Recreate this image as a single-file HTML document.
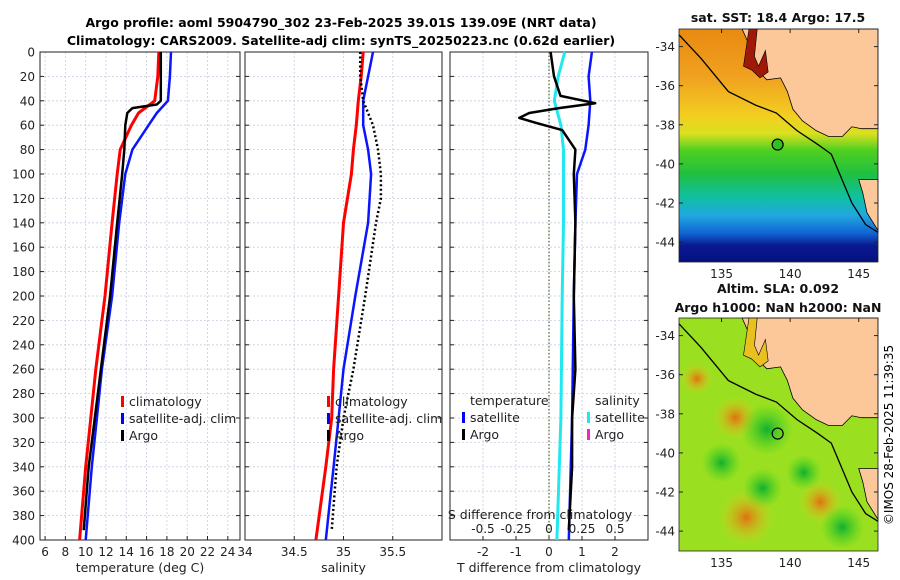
<!DOCTYPE html>
<html><head><meta charset="utf-8"><style>
body{margin:0;background:#fff;}
svg{display:block;font-family:"DejaVu Sans","Liberation Sans",sans-serif;}
</style></head><body>
<svg id="fig" width="900" height="580" viewBox="0 0 900 580">
<defs>
<linearGradient id="sstg" x1="0" y1="0" x2="0" y2="1">
<stop offset="0" stop-color="#e88a10"/><stop offset="0.2" stop-color="#f0a020"/>
<stop offset="0.38" stop-color="#f2d020"/><stop offset="0.45" stop-color="#d8e020"/>
<stop offset="0.52" stop-color="#50d020"/><stop offset="0.62" stop-color="#20c040"/>
<stop offset="0.72" stop-color="#10c0a0"/><stop offset="0.8" stop-color="#20a8e0"/>
<stop offset="0.88" stop-color="#1060d0"/><stop offset="0.93" stop-color="#0a1890"/><stop offset="1" stop-color="#061080"/>
</linearGradient>
<radialGradient id="hot1"><stop offset="0" stop-color="#e07010"/><stop offset="1" stop-color="#e8d020" stop-opacity="0"/></radialGradient>
<radialGradient id="grn1"><stop offset="0" stop-color="#10b030"/><stop offset="1" stop-color="#40d020" stop-opacity="0"/></radialGradient>
</defs>
<g id="titles" font-weight="bold" font-size="12.5" text-anchor="middle">
<text x="341" y="27">Argo profile: aoml 5904790_302 23-Feb-2025 39.01S 139.09E (NRT data)</text>
<text x="341" y="45">Climatology: CARS2009. Satellite-adj clim: synTS_20250223.nc (0.62d earlier)</text>
</g>
<g id="plots"></g>
<g id="maps"></g>
<text transform="translate(893,435) rotate(-90)" font-size="12" text-anchor="middle">©IMOS 28-Feb-2025 11:39:35</text>
</svg>
<script>
const NS="http://www.w3.org/2000/svg";
// depths (m)
const depthTicks=[0,20,40,60,80,100,120,140,160,180,200,220,240,260,280,300,320,340,360,380,400];
// temperature profiles
const tDepth=[0,20,40,50,60,80,100,140,200,260,300,340,400];
const tClim=[17.2,17.1,16.8,15.2,14.5,13.4,13.1,12.6,11.9,11.0,10.5,10.0,9.4];
const tSat=[18.4,18.3,18.1,17.0,16.2,14.6,13.9,13.3,12.6,11.6,11.1,10.6,10.0];
const argoTDepth=[0,20,40,43,46,50,60,80,100,140,200,260,300,340,392];
const argoT=[17.4,17.4,17.4,17.0,14.6,14.1,13.9,13.8,13.6,13.1,12.4,11.5,10.9,10.3,9.8];
const tTicks=[6,8,10,12,14,16,18,20,22,24];
// salinity profiles
const sDepth=[0,20,40,60,80,100,140,200,260,300,340,400];
const sClim=[35.2,35.18,35.15,35.13,35.1,35.08,35.0,34.95,34.9,34.88,34.82,34.72];
const sSat=[35.3,35.25,35.2,35.2,35.25,35.28,35.25,35.12,35.0,34.95,34.9,34.82];
const argoSDepth=[0,20,40,60,80,100,120,140,200,260,300,340,392];
const argoS=[35.17,35.17,35.2,35.3,35.35,35.38,35.38,35.33,35.22,35.1,35.0,34.93,34.88];
const sTicks=[34,34.5,35,35.5];
// differences
const dTArgoDepth=[0,20,36,42,46,50,54,58,64,80,100,140,200,260,300,340,392];
const dTArgo=[0.05,0.15,0.35,1.4,0.3,-0.6,-0.9,-0.4,0.4,0.8,0.75,0.8,0.75,0.8,0.7,0.7,0.6];
const dTSatDepth=[0,20,40,60,80,100,140,200,300,400];
const dTSat=[1.3,1.2,1.25,1.2,1.1,0.85,0.8,0.75,0.7,0.6];
const dSSat=[0.12,0.07,0.04,0.09,0.11,0.11,0.11,0.1,0.09,0.06];
const dTTicks=[-2,-1,0,1,2];
const dSTicks=[-0.5,-0.25,0,0.25,0.5];
const dSTickLabels=["-0.5","-0.25","0","0.25","0.5"];
const latTicks=[-34,-36,-38,-40,-42,-44];
const lonTicks=[135,140,145];
const argoLon=139.09, argoLat=-39.01;

const Y0=52,Y1=540;
const yD=d=>Y0+d/400*(Y1-Y0);
function mk(tag,attrs,parent){const e=document.createElementNS(NS,tag);for(const k in attrs)e.setAttribute(k,attrs[k]);parent.appendChild(e);return e;}
const plots=document.getElementById('plots');
function panel(name,x0,x1,xmin,xmax,ticks,labels,xlabel,yLabels){
  const g=mk('g',{},plots);
  
  
  const sx=v=>x0+(v-xmin)/(xmax-xmin)*(x1-x0);
  depthTicks.forEach(d=>{const l=mk('line',{x1:x0,x2:x1,y1:yD(d),y2:yD(d),stroke:'#c8cce0','stroke-dasharray':'2,2','stroke-width':0.8},g);
    mk('line',{x1:x0,x2:x0+4,y1:yD(d),y2:yD(d),stroke:'#222'},g);mk('line',{x1:x1,x2:x1-4,y1:yD(d),y2:yD(d),stroke:'#222'},g);
    if(yLabels){const t=mk('text',{x:x0-5,y:yD(d)+4.5,'font-size':12,'text-anchor':'end',fill:'#222'},g);t.textContent=d;}});
  ticks.forEach((v,i)=>{const l=mk('line',{x1:sx(v),x2:sx(v),y1:Y0,y2:Y1,stroke:'#c8cce0','stroke-dasharray':'2,2','stroke-width':0.8},g);
    mk('line',{x1:sx(v),x2:sx(v),y1:Y1,y2:Y1-4,stroke:'#222'},g);
    const t=mk('text',{x:sx(v),y:Y1+16,'font-size':12,'text-anchor':'middle',fill:'#222'},g);t.textContent=labels[i];});
  mk('rect',{x:x0,y:Y0,width:x1-x0,height:Y1-Y0,fill:'none',stroke:'#222','stroke-width':1},g);
  const xl=mk('text',{x:(x0+x1)/2,y:Y1+32,'font-size':12.5,'text-anchor':'middle',fill:'#222'},g);xl.textContent=xlabel;
  return {g,sx};
}
function line(p,xs,ds,color,w,name,dash){const pts=xs.map((v,i)=>p.sx(v).toFixed(1)+','+yD(ds[i]).toFixed(1)).join(' ');
  const a={points:pts,fill:'none',stroke:color,'stroke-width':w,'stroke-linejoin':'round'};if(dash)a['stroke-dasharray']=dash;
  const e=mk('polyline',a,p.g);}
function legend(g,x,y,items){items.forEach((it,i)=>{mk('rect',{x:x,y:y+i*17-10,width:3,height:11,fill:it[1]},g);
  const t=mk('text',{x:x+8,y:y+i*17,'font-size':12.5,fill:'#222'},g);t.textContent=it[0];});}

const p1=panel('temperature-panel',40,240,5.5,25.2,tTicks,tTicks,'temperature (deg C)',true);
line(p1,tClim,tDepth,'#ff0000',3,'temp-climatology-line');
line(p1,tSat,tDepth,'#0a14ff',2.5,'temp-satellite-line');
line(p1,argoT,argoTDepth,'#000',2.5,'temp-argo-line');
legend(p1.g,121,406,[['climatology','#f00'],['satellite-adj. clim','#00f'],['Argo','#000']]);

const p2=panel('salinity-panel',245,442,34,36,sTicks,sTicks,'salinity',false);
line(p2,sClim,sDepth,'#ff0000',3,'sal-climatology-line');
line(p2,sSat,sDepth,'#0a14ff',2.5,'sal-satellite-line');
line(p2,argoS,argoSDepth,'#000',2.5,'sal-argo-line','2,2.5');
legend(p2.g,327,406,[['climatology','#f00'],['satellite-adj. clim','#00f'],['Argo','#000']]);

const p3=panel('difference-panel',450,648,-3,3,dTTicks,dTTicks,'T difference from climatology',false);
{const z=mk('line',{x1:p3.sx(0),x2:p3.sx(0),y1:Y0,y2:Y1,stroke:'#4a6a30','stroke-dasharray':'1.5,2','stroke-width':1.2},p3.g);}
line(p3,dSSat.map(v=>v*4),dTSatDepth,'#20e8f0',3,'sal-diff-satellite-line');
line(p3,dTSat,dTSatDepth,'#0a14ff',2.5,'temp-diff-satellite-line');
line(p3,dTArgo,dTArgoDepth,'#000',2.5,'temp-diff-argo-line');
{const g=p3.g;let t=mk('text',{x:470,y:405,'font-size':12.5,fill:'#222'},g);t.textContent='temperature';
 t=mk('text',{x:595,y:405,'font-size':12.5,fill:'#222'},g);t.textContent='salinity';
 legend(g,462,422,[['satellite','#00f'],['Argo','#000']]);legend(g,587,422,[['satellite','#20e8f0'],['Argo','#ff20c0']]);
 t=mk('text',{x:540,y:519,'font-size':12.5,'text-anchor':'middle',fill:'#222'},g);t.textContent='S difference from climatology';
 dSTicks.forEach((v,i)=>{const e=mk('text',{x:p3.sx(v*4),y:533,'font-size':12,'text-anchor':'middle',fill:'#222'},g);e.textContent=dSTickLabels[i];});}

// maps
const maps=document.getElementById('maps');
function map(name,top,title1,title2,kind){
  const g=mk('g',{},maps);
  const X0=679,X1=878,H=233;
  const sx=lo=>X0+(lo-131.9)*13.72, sy=la=>top+(-33.1-la)*19.55;
  mk('rect',{x:X0,y:top,width:X1-X0,height:H,fill:kind==='sst'?'url(#sstg)':'#9ae020'},g);
  if(kind!=='sst'){
    [[136.8,-43.3,28,'hot1'],[142.2,-42.5,22,'hot1'],[136,-38.2,22,'hot1'],[133.2,-36.2,16,'hot1'],[143.8,-43.8,22,'grn1'],[138.3,-38.8,26,'grn1'],[138,-41.8,20,'grn1'],[135,-40.5,20,'grn1'],[141,-41,18,'grn1']].forEach(b=>mk('circle',{cx:sx(b[0]),cy:sy(b[1]),r:b[2],fill:'url(#'+b[3]+')'},g));
  }
  const land=[[136.5,-33.1],[137.2,-34.2],[137.6,-35.2],[138.3,-35.7],[139.3,-35.6],[139.8,-36.3],[140.2,-37.2],[140.9,-37.8],[141.9,-38.3],[142.8,-38.6],[143.8,-38.6],[144.5,-38.1],[145.2,-38.2],[146.4,-38.2],[146.4,-33.1]];
  mk('polygon',{points:land.map(p=>sx(p[0])+','+sy(p[1])).join(' '),fill:'#fcc89a',stroke:'#000','stroke-width':0.8},g);
  const land2=[[145.0,-40.8],[146.4,-40.8],[146.4,-43.4],[145.6,-42.5],[145.3,-41.5]];
  mk('polygon',{points:land2.map(p=>sx(p[0])+','+sy(p[1])).join(' '),fill:'#fcc89a',stroke:'#000','stroke-width':0.8},g);
  const gulf=[[137.0,-33.1],[137.6,-33.1],[137.4,-34.5],[137.7,-35.0],[138.2,-34.2],[138.4,-35.3],[137.8,-35.6],[137.2,-35.2],[136.6,-35.0]];
  mk('polygon',{points:gulf.map(p=>sx(p[0])+','+sy(p[1])).join(' '),fill:kind==='sst'?'#a01808':'#e8c020',stroke:'#000','stroke-width':0.6},g);
  const shelf=[[131.9,-33.4],[133.5,-34.6],[135.5,-36.3],[137.5,-37.0],[139.0,-37.4],[140.5,-38.3],[142.0,-39.0],[143.0,-39.5],[143.6,-40.5],[144.5,-42.0],[145.5,-43.1],[146.4,-43.5]];
  mk('polyline',{points:shelf.map(p=>sx(p[0])+','+sy(p[1])).join(' '),fill:'none',stroke:'#000','stroke-width':1.3},g);
  const c=mk('circle',{cx:sx(argoLon),cy:sy(argoLat),r:5.5,fill:kind==='sst'?'#30c020':'none',stroke:'#000','stroke-width':1.2},g);
  
  mk('rect',{x:X0,y:top,width:X1-X0,height:H,fill:'none',stroke:'#222','stroke-width':0.8},g);
  latTicks.forEach(la=>{mk('line',{x1:X0,x2:X0+4,y1:sy(la),y2:sy(la),stroke:'#222'},g);mk('line',{x1:X1,x2:X1-4,y1:sy(la),y2:sy(la),stroke:'#222'},g);
    const t=mk('text',{x:X0-4,y:sy(la)+4.5,'font-size':12,'text-anchor':'end',fill:'#222'},g);t.textContent=la;});
  lonTicks.forEach(lo=>{mk('line',{x1:sx(lo),x2:sx(lo),y1:top,y2:top+4,stroke:'#222'},g);
    const t=mk('text',{x:sx(lo),y:top+H+16,'font-size':12,'text-anchor':'middle',fill:'#222'},g);t.textContent=lo;});
  let t=mk('text',{x:778,y:top-(title2?25:7),'font-size':12.5,'font-weight':'bold','text-anchor':'middle',fill:'#111'},g);t.textContent=title1;
  if(title2){t=mk('text',{x:778,y:top-6,'font-size':12.5,'font-weight':'bold','text-anchor':'middle',fill:'#111'},g);t.textContent=title2;}
}
map('sst-map',29,'sat. SST: 18.4 Argo: 17.5',null,'sst');
map('sla-map',318,'Altim. SLA: 0.092','Argo h1000: NaN h2000: NaN','sla');
</script>
</body></html>
